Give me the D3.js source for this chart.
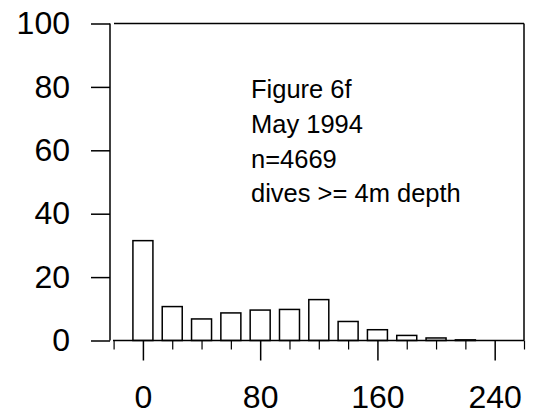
<!DOCTYPE html>
<html>
<head>
<meta charset="utf-8">
<script src="https://cdn.jsdelivr.net/npm/d3@7/dist/d3.min.js"></script>
<style>
  html, body { margin: 0; padding: 0; background: #fff; }
  svg { display: block; }
  text { font-family: "Liberation Sans", Arial, sans-serif; fill: #000; }
</style>
</head>
<body>
<svg id="chart" width="535" height="415"></svg>
<script>
// Histogram bins (bin centre) and percentage of dives in each bin
const binCentres = [0, 20, 40, 60, 80, 100, 120, 140, 160, 180, 200, 220];
const percents   = [31.5, 10.7, 6.8, 8.7, 9.6, 9.8, 12.9, 6.0, 3.4, 1.6, 0.8, 0.2];

const yTicks = [0, 20, 40, 60, 80, 100];
const xMajorTicks = [0, 80, 160, 240];
const xMinorTicks = [-20, 20, 40, 60, 100, 120, 140, 180, 200, 220, 260];

const annotations = ["Figure 6f", "May 1994", "n=4669", "dives >= 4m depth"];

const svg = d3.select("#chart");

const x = d3.scaleLinear().domain([-20, 260]).range([113.6, 524]);
const y = d3.scaleLinear().domain([0, 100]).range([340.5, 23.5]);

const stroke = "#000";
const sw = 1.5;

// frame: top and right edges of the plot box
svg.append("line")
  .attr("x1", 114).attr("x2", x(260)).attr("y1", y(100)).attr("y2", y(100))
  .attr("stroke", stroke).attr("stroke-width", sw);
svg.append("line")
  .attr("x1", x(260)).attr("x2", x(260)).attr("y1", y(100)).attr("y2", y(0))
  .attr("stroke", stroke).attr("stroke-width", sw);

// bars
const barW = 20;
svg.append("g").selectAll("rect")
  .data(binCentres.map((c, i) => ({ c, v: percents[i] })))
  .join("rect")
  .attr("x", d => x(d.c) - barW / 2)
  .attr("width", barW)
  .attr("y", d => y(d.v))
  .attr("height", d => y(0) - y(d.v))
  .attr("fill", "#fff")
  .attr("stroke", stroke)
  .attr("stroke-width", sw);

// y axis
const yAxis = d3.axisLeft(y).tickValues(yTicks).tickSize(19).tickPadding(21).tickSizeOuter(0);
const gy = svg.append("g").attr("transform", "translate(110,0)").call(yAxis);
gy.select(".domain").attr("stroke-width", sw).attr("d", `M0,${y(100)}V${y(0)}`);
gy.selectAll(".tick line").attr("stroke-width", sw);
gy.selectAll(".tick text")
  .style("font-size", "32px")
  .attr("font-family", null);

// x axis: minor ticks
const gxMinor = svg.append("g").attr("transform", `translate(0,${y(0)})`)
  .call(d3.axisBottom(x).tickValues(xMinorTicks).tickSize(9).tickFormat(""));
gxMinor.select(".domain").attr("stroke-width", sw).attr("d", `M113,0H${x(260)}`);
gxMinor.selectAll(".tick line").attr("stroke-width", 1.2);

// x axis: major ticks with labels
const gxMajor = svg.append("g").attr("transform", `translate(0,${y(0)})`)
  .call(d3.axisBottom(x).tickValues(xMajorTicks).tickSize(20).tickPadding(25));
gxMajor.select(".domain").remove();
gxMajor.selectAll(".tick line").attr("stroke-width", sw);
gxMajor.selectAll(".tick text")
  .style("font-size", "32px")
  .attr("font-family", null);

// annotation block
svg.append("g").selectAll("text")
  .data(annotations)
  .join("text")
  .attr("x", 251)
  .attr("y", (d, i) => 98 + i * 34.8)
  .style("font-size", "25.5px")
  .text(d => d);
</script>
</body>
</html>
